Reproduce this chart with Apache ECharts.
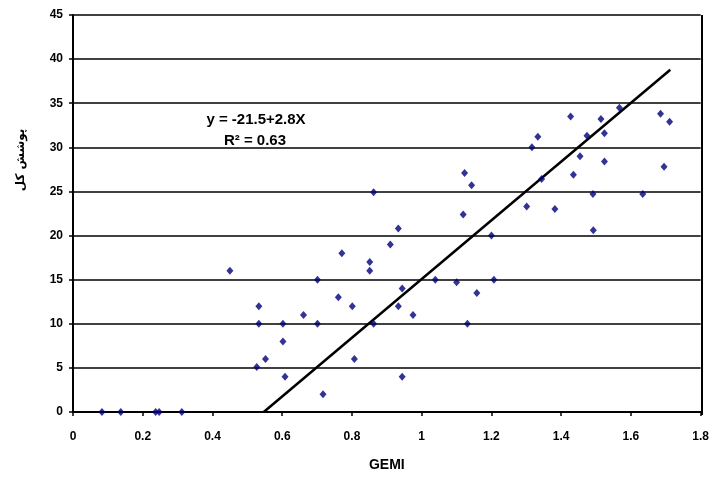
<!DOCTYPE html>
<html>
<head>
<meta charset="utf-8">
<script src="https://cdn.jsdelivr.net/npm/echarts@6/dist/echarts.min.js"></script>
<style>
  html, body { margin: 0; padding: 0; background: #fff; }
  #chart { width: 712px; height: 477px; }
</style>
</head>
<body>
<div id="chart"></div>
<script>
// GEMI vs total cover
const gemi = [
  0.083, 0.137, 0.237, 0.247, 0.312, 0.45, 0.701, 0.533, 0.533, 0.602,
  0.661, 0.701, 0.602, 0.552, 0.527, 0.608, 1.123, 1.143, 0.862, 1.119,
  0.933, 1.2, 0.91, 0.771, 0.851, 0.851, 1.039, 1.1, 1.207, 0.944,
  1.158, 0.761, 0.801, 0.933, 0.975, 0.862, 1.131, 0.807, 0.944, 0.717,
  1.567, 1.685, 1.711, 1.427, 1.514, 1.333, 1.474, 1.524, 1.316, 1.454,
  1.524, 1.695, 1.435, 1.344, 1.491, 1.634, 1.301, 1.382, 1.492
]
const cover = [
  0, 0, 0, 0, 0, 16, 15, 12, 10, 10,
  11, 10, 8, 6, 5.1, 4, 27.1, 25.7, 24.9, 22.4,
  20.8, 20, 19, 18, 17, 16, 15, 14.7, 15, 14,
  13.5, 13, 12, 12, 11, 10, 10, 6, 4, 2,
  34.5, 33.8, 32.9, 33.5, 33.2, 31.2, 31.3, 31.6, 30, 29,
  28.4, 27.8, 26.9, 26.4, 24.7, 24.7, 23.3, 23, 20.6
]
// fitted line as drawn in the picture
const trendX = [0.547, 1.713]
const trendY = [0, 38.8]
const equation = 'y = -21.5+2.8X'
const rSquared = 'R² = 0.63'

const chart = echarts.init(document.getElementById('chart'))
const bold = { fontFamily: 'Liberation Sans, Arial', fontWeight: 'bold', color: '#000' }

chart.setOption({
  animation: false,
  grid: { left: 73, right: 10, top: 15, bottom: 62 },
  xAxis: {
    type: 'value',
    min: 0,
    max: 1.8,
    interval: 0.2,
    name: 'GEMI',
    nameLocation: 'middle',
    nameGap: 46,
    nameTextStyle: Object.assign({ fontSize: 14 }, bold),
    axisLine: { show: true, lineStyle: { color: '#000', width: 2 } },
    axisTick: { show: true, length: 4, lineStyle: { color: '#000', width: 1.5 } },
    axisLabel: Object.assign({ fontSize: 12, margin: 19, formatter: v => String(+v.toFixed(1)) }, bold),
    splitLine: { show: false }
  },
  yAxis: {
    type: 'value',
    min: 0,
    max: 45,
    interval: 5,
    axisLine: { show: true, lineStyle: { color: '#000', width: 2 } },
    axisTick: { show: true, length: 4, lineStyle: { color: '#000', width: 1.5 } },
    axisLabel: Object.assign({ fontSize: 12, margin: 10 }, bold),
    splitLine: { show: true, lineStyle: { color: '#000', width: 1.5 } }
  },
  graphic: [
    {
      type: 'line',
      shape: { x1: 702, y1: 15, x2: 702, y2: 415 },
      style: { stroke: '#000', lineWidth: 2 }
    },
    {
      type: 'text',
      x: 21,
      y: 160,
      rotation: Math.PI / 2,
      style: {
        text: 'پوشش کل',
        font: 'bold 12px "DejaVu Sans", "Noto Sans"',
        fill: '#000',
        align: 'center',
        verticalAlign: 'middle'
      }
    },
    {
      type: 'text',
      x: 256,
      y: 120,
      style: { text: equation, font: 'bold 15px "Liberation Sans", Arial', fill: '#000', align: 'center', verticalAlign: 'middle' }
    },
    {
      type: 'text',
      x: 255,
      y: 141,
      style: { text: rSquared, font: 'bold 15px "Liberation Sans", Arial', fill: '#000', align: 'center', verticalAlign: 'middle' }
    }
  ],
  series: [
    {
      type: 'line',
      data: trendX.map((x, i) => [x, trendY[i]]),
      symbol: 'none',
      lineStyle: { color: '#000', width: 2.5 },
      z: 3
    },
    {
      type: 'scatter',
      data: gemi.map((x, i) => [x, cover[i]]),
      symbol: 'diamond',
      symbolSize: [7, 8],
      itemStyle: { color: '#00007a' },
      z: 4
    }
  ]
})
</script>
</body>
</html>
